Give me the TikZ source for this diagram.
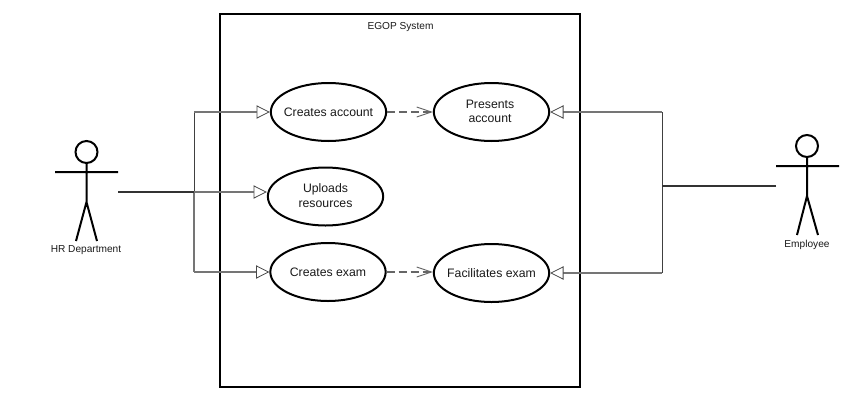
\documentclass[tikz,border=0pt]{standalone}
\usepackage{fontspec}
\setmainfont{Liberation Sans}
\usetikzlibrary{shapes.geometric,arrows.meta}
\definecolor{linegray}{HTML}{757575}
\definecolor{tipgray}{HTML}{4A4A4A}
\definecolor{textgray}{HTML}{1A1A1A}
\tikzset{
  usecase/.style={draw=black,line width=1.5pt,fill=white,ellipse,inner sep=0pt,minimum width=86.5pt,minimum height=43.5pt},
  uctext/.style={align=center,inner sep=0pt,text=textgray,font=\fontsize{9.2}{10.9}\selectfont},
  sysbox/.style={draw=black,line width=1.5pt,inner sep=0pt},
  actorhead/.style={draw=black,line width=1.5pt,circle,minimum size=16.5pt,inner sep=0pt},
  actorline/.style={draw=black,line width=1.5pt},
  assoc/.style={draw=linegray,line width=1.3pt},
  assocthin/.style={draw=black!75,line width=0.75pt},
  assocdark/.style={draw=black!80,line width=1.5pt},
  gen/.style={assoc,-{Triangle[open,fill=white,color=tipgray,length=10pt,width=10pt,line width=0.6pt]}},
  dep/.style={draw=black!60,line width=1pt,dash pattern=on 6pt off 3pt,-{Straight Barb[length=11pt,width=7.5pt,line width=0.7pt]}},
  caption/.style={font=\fontsize{7.6}{9}\selectfont,text=textgray,inner sep=0pt}
}
\begin{document}
\begin{tikzpicture}[x=0.75pt,y=-0.75pt]
\useasboundingbox (0,0) rectangle (859,407);
\fill[white] (0,0) rectangle (859,407);
\node[sysbox,minimum width=270pt,minimum height=279.75pt] (sys) at (400,200.5) {};
\node[caption] (systitle) at (400.5,27.5) {EGOP System};
% HR actor
\node[actorhead] (hrhead) at (86.5,152) {};
\coordinate (hrarmL) at (55,172);
\coordinate (hrarmR) at (118,172);
\coordinate (hrhip) at (86.5,202);
\coordinate (hrlegL) at (76,241);
\coordinate (hrlegR) at (97,241);
\draw[actorline] (hrhead.south) -- (hrhip) (hrarmL) -- (hrarmR) (hrlegL) -- (hrhip) -- (hrlegR);
\node[caption] (hrlabel) at (86,250.5) {HR Department};
% Employee actor
\node[actorhead] (emhead) at (807,146) {};
\coordinate (emarmL) at (776,166);
\coordinate (emarmR) at (839,166);
\coordinate (emhip) at (807,196);
\coordinate (emlegL) at (797,235);
\coordinate (emlegR) at (818,235);
\draw[actorline] (emhead.south) -- (emhip) (emarmL) -- (emarmR) (emlegL) -- (emhip) -- (emlegR);
\node[caption] (emlabel) at (807,244.5) {Employee};
% use cases
\node[usecase] (ca) at (328.5,112) {};
\node[usecase] (pa) at (491.5,112) {};
\node[usecase] (ur) at (325.5,196.5) {};
\node[usecase] (ce) at (328,272) {};
\node[usecase] (fe) at (491.5,273) {};
\node[uctext] (catext) at (ca.center) {Creates account};
\node[uctext] (patext) at (490,111.5) {Presents\\account};
\node[uctext] (urtext) at (325.5,195.5) {Uploads\\resources};
\node[uctext] (cetext) at (ce.center) {Creates exam};
\node[uctext] (fetext) at (fe.center) {Facilitates exam};
% connectors
\coordinate (hrstart) at (118,192);
\coordinate (hrj) at (194,192);
\coordinate (emstart) at (776,186);
\coordinate (emj) at (662,186);
\coordinate (hrtop) at (hrj |- ca.west);
\coordinate (hrbot) at (hrj |- ce.west);
\coordinate (emtop) at (emj |- pa.east);
\coordinate (embot) at (emj |- fe.east);
\draw[assocthin] (hrj) -- (hrtop);
\draw[assoc] (hrj) -- (hrbot);
\draw[assocthin] (emtop) -- (embot);
\draw[gen] (hrtop) -- (ca.west);
\draw[gen] (hrbot) -- (ce.west);
\draw[gen] (hrj) -- (ur.west |- hrj);
\draw[gen] (emtop) -- (pa.east);
\draw[gen] (embot) -- (fe.east);
\draw[assocdark] (hrstart) -- (hrj);
\draw[assocdark] (emstart) -- (emj);
\draw[dep] (ca) -- (pa);
\draw[dep] (ce.east) -- (fe.west |- ce.east);
\end{tikzpicture}
\end{document}
